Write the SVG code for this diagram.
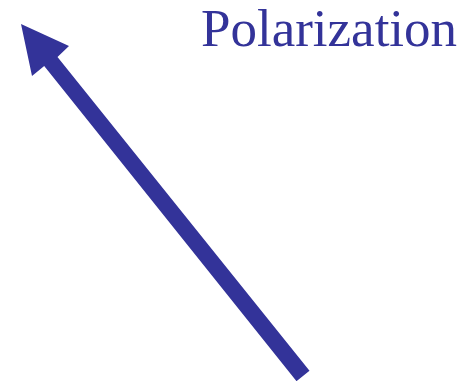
<svg xmlns="http://www.w3.org/2000/svg" width="466" height="381" viewBox="0 0 466 381">
<style>
.ink{fill:#333399}
.lbl{font-family:"Liberation Serif","Times New Roman",serif;font-size:53px;fill:#333399}
</style>
<rect width="466" height="381" fill="#ffffff"/>
<g id="label"><text class="lbl" x="201" y="46">Polarization</text></g>
<g id="arrow"><polygon class="ink" points="21,24 69,46 57.5,57 309.5,370.8 296.5,381.2 44.2,66 32,76"/></g>
</svg>
